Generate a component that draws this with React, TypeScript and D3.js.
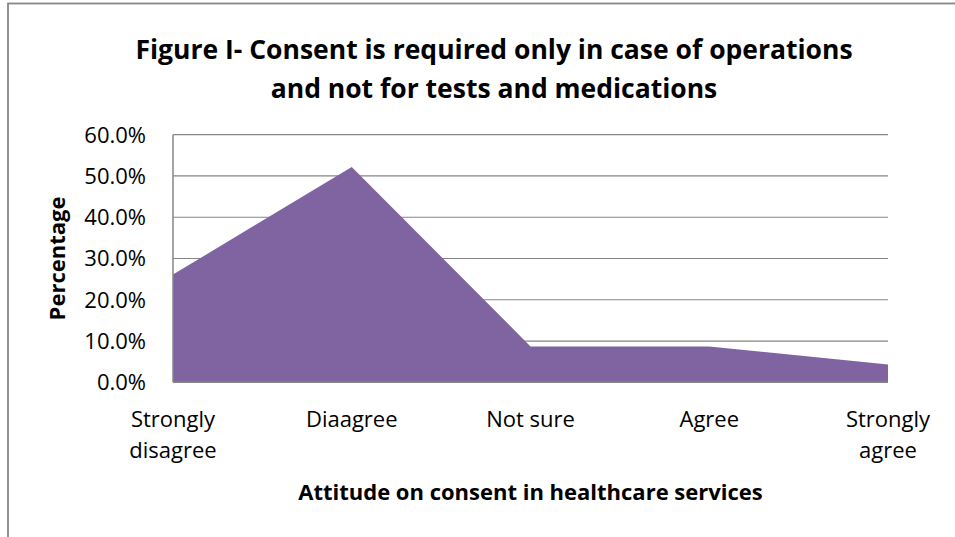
import React from "react";
import * as d3 from "d3";

const categories = ["Strongly disagree", "Diaagree", "Not sure", "Agree", "Strongly agree"];
const categoryLines = [["Strongly", "disagree"], ["Diaagree"], ["Not sure"], ["Agree"], ["Strongly", "agree"]];
const values = [26.1, 52.2, 8.7, 8.7, 4.3];
const yTicks = [0, 10, 20, 30, 40, 50, 60];
const titleLines = ["Figure I- Consent is required only in case of operations", "and not for tests and medications"];
const xAxisTitle = "Attitude on consent in healthcare services";
const yAxisTitle = "Percentage";

const W = 955;
const H = 537;
const plot = { left: 173, right: 888, top: 134.7, bottom: 382.3 };
const FONT = "'Open Sans', 'Noto Sans', sans-serif";
const GRID = "#868686";
const FILL = "#8064A2";

export default function App() {
  const x = d3.scalePoint<string>().domain(categories).range([plot.left, plot.right]);
  const y = d3.scaleLinear().domain([0, 60]).range([plot.bottom, plot.top]);
  const area = d3
    .area<number>()
    .x((_, i) => x(categories[i]) as number)
    .y0(y(0))
    .y1((d) => y(d));

  return (
    <svg
      width={W}
      height={H}
      style={{ position: "absolute", left: 0, top: 0, background: "#fff" }}
      fontFamily={FONT}
    >
      <rect x={0} y={0} width={W} height={H} fill="#fff" />
      <rect x={8} y={3.5} width={1200} height={700} fill="none" stroke={GRID} strokeWidth={1.8} />
      {titleLines.map((t, i) => (
        <text key={i} x={494} y={59 + i * 39} textAnchor="middle" fontWeight="bold" fontSize={26.5} fill="#000">
          {t}
        </text>
      ))}
      {yTicks.map((t) => (
        <line key={"g" + t} x1={plot.left} x2={plot.right} y1={y(t)} y2={y(t)} stroke={GRID} strokeWidth={1.2} />
      ))}
      <path d={area(values) as string} fill={FILL} />
      <line x1={plot.left} x2={plot.left} y1={plot.top} y2={plot.bottom} stroke={GRID} strokeWidth={1.5} />
      <line x1={plot.left} x2={plot.right} y1={plot.bottom} y2={plot.bottom} stroke={GRID} strokeWidth={1.5} />
      {yTicks.map((t) => (
        <text key={"t" + t} x={146} y={y(t)} dy="0.36em" textAnchor="end" fontSize={22} fill="#000">
          {t.toFixed(1) + "%"}
        </text>
      ))}
      {categories.map((c, i) =>
        categoryLines[i].map((ln, j) => (
          <text key={c + j} x={x(c) as number} y={427 + j * 31} textAnchor="middle" fontSize={22} fill="#000">
            {ln}
          </text>
        ))
      )}
      <text x={(plot.left + plot.right) / 2} y={500} textAnchor="middle" fontWeight="bold" fontSize={22} fill="#000">
        {xAxisTitle}
      </text>
      <text
        transform={`translate(65, ${(plot.top + plot.bottom) / 2}) rotate(-90)`}
        textAnchor="middle"
        fontWeight="bold"
        fontSize={22}
        fill="#000"
      >
        {yAxisTitle}
      </text>
    </svg>
  );
}
